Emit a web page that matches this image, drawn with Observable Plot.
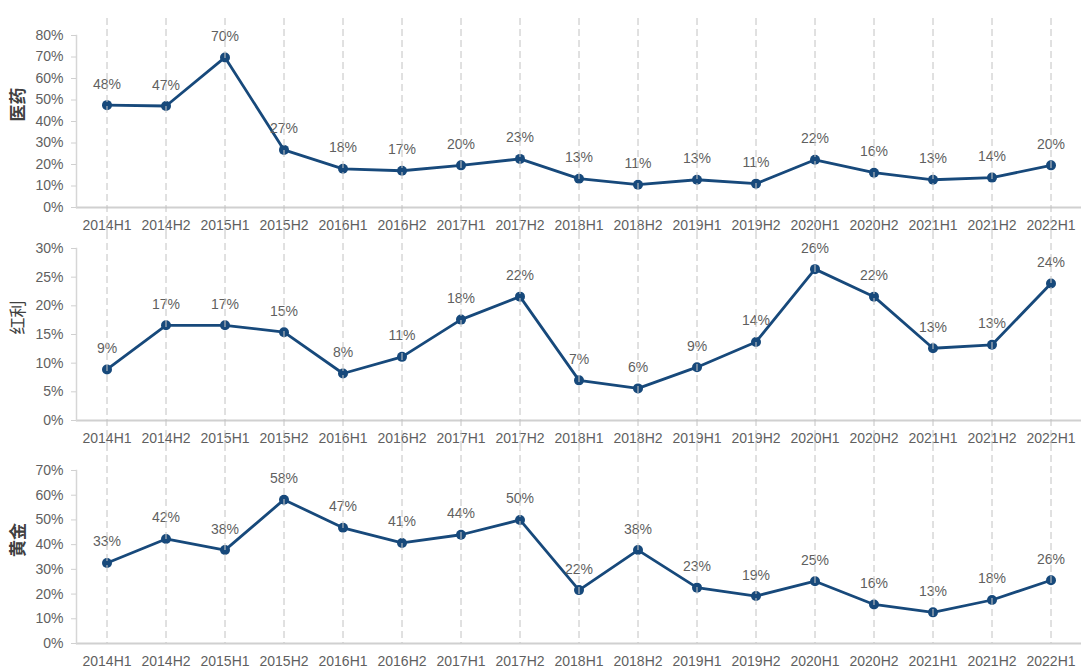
<!DOCTYPE html>
<html>
<head>
<meta charset="utf-8">
<script src="https://cdn.jsdelivr.net/npm/d3@7"></script>
<script src="https://cdn.jsdelivr.net/npm/@observablehq/plot@0.6"></script>
<style>
  html, body { margin: 0; padding: 0; background: #fff; }
  #chart svg { display: block; }
  #chart { font-family: "Liberation Sans", Arial, "Noto Sans CJK SC", sans-serif; }
</style>
</head>
<body>
<div id="chart"></div>
<script>
const periods = ["2014H1","2014H2","2015H1","2015H2","2016H1","2016H2","2017H1","2017H2","2018H1","2018H2","2019H1","2019H2","2020H1","2020H2","2021H1","2021H2","2022H1"];

const yiyao = [47.6, 47.2, 69.8, 26.8, 18.0, 17.1, 19.6, 22.6, 13.4, 10.6, 12.9, 11.1, 22.2, 16.2, 12.9, 13.9, 19.6];
const hongli = [8.9, 16.6, 16.6, 15.4, 8.2, 11.1, 17.6, 21.6, 7.0, 5.6, 9.3, 13.7, 26.4, 21.6, 12.6, 13.2, 23.9];
const huangjin = [32.6, 42.3, 37.8, 58.2, 46.8, 40.7, 44.0, 50.0, 21.6, 37.8, 22.6, 19.2, 25.2, 15.8, 12.6, 17.6, 25.6];

const panelNames = ["医药", "红利", "黄金"];
const panelSeries = [yiyao, hongli, huangjin];
const yTicks = [
  [0, 10, 20, 30, 40, 50, 60, 70, 80],
  [0, 5, 10, 15, 20, 25, 30],
  [0, 10, 20, 30, 40, 50, 60, 70]
];

const layouts = [
  {height: 232, marginTop: 35, marginBottom: 25, ruleTop: -17, ruleBottom: -25, weight: "bold"},
  {height: 212, marginTop: 16, marginBottom: 24, ruleTop: -16, ruleBottom: -24, weight: "normal"},
  {height: 228, marginTop: 26, marginBottom: 29, ruleTop: -26, ruleBottom: 0, weight: "bold"}
];

const blue = "#17497b";
const textGray = "#5f5f5f";
const container = document.getElementById("chart");

panelSeries.forEach((vals, i) => {
  const L = layouts[i];
  const data = periods.map((p, j) => ({period: p, value: vals[j]}));
  const ticks = yTicks[i];
  const plot = Plot.plot({
    width: 1089,
    height: L.height,
    marginLeft: 76,
    marginRight: 8,
    marginTop: L.marginTop,
    marginBottom: L.marginBottom,
    style: {fontFamily: '"Liberation Sans", Arial, "Noto Sans CJK SC", sans-serif', fontSize: "14px", color: textGray, background: "#fff", overflow: "visible"},
    x: {type: "band", domain: periods, padding: 0},
    y: {domain: [ticks[0], ticks[ticks.length - 1]]},
    marks: [
      Plot.ruleY([0], {stroke: "#d0d0d0", strokeWidth: 2}),
      Plot.frame({anchor: "left", stroke: "#d6d6d6", strokeWidth: 1.5}),
      Plot.axisY({ticks: ticks, tickSize: 5, tickPadding: 8, stroke: "#d0d0d0", fill: textGray, fontSize: 14, tickFormat: d => d + "%", label: null}),
      Plot.axisX({tickSize: 0, tickPadding: 13, fill: textGray, fontSize: 14, label: null}),
      Plot.text([panelNames[i]], {frameAnchor: "left", rotate: -90, dx: -58, fontSize: 17, fontWeight: L.weight, fill: "#404040", fontFamily: '"Noto Sans CJK SC", sans-serif'}),
      Plot.line(data, {x: "period", y: "value", stroke: blue, strokeWidth: 2.8}),
      Plot.dot(data, {x: "period", y: "value", r: 5, fill: blue, stroke: "none"}),
      Plot.text(data, {x: "period", y: "value", text: d => Math.round(d.value) + "%", dy: -21, fill: textGray, fontSize: 14}),
      Plot.ruleX(periods, {stroke: "#c4c4c4", strokeOpacity: 0.8, strokeWidth: 1.3, strokeDasharray: "7,4", insetTop: L.ruleTop, insetBottom: L.ruleBottom})
    ]
  });
  container.appendChild(plot);
});
</script>
</body>
</html>
